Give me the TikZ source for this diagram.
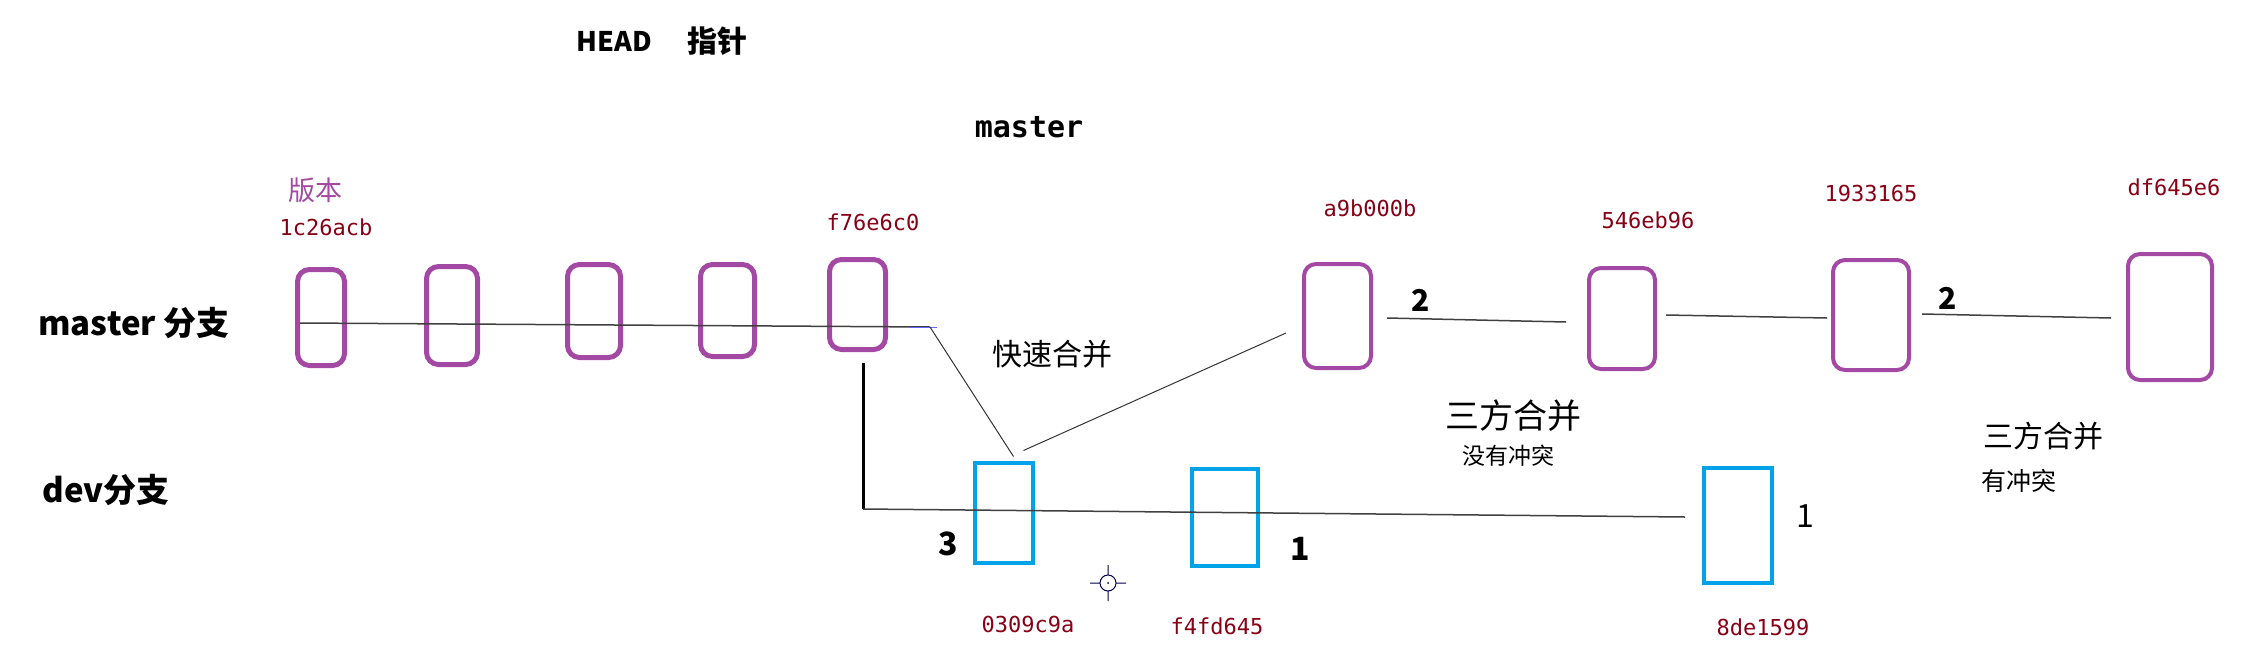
\documentclass[tikz,border=0pt]{standalone}
\usepackage{fontspec}
\newfontfamily\cjk{Noto Sans CJK SC}
\newfontfamily\hashfont{DejaVu Sans Mono}
\definecolor{gitpurple}{RGB}{163,73,164}
\definecolor{gitcyan}{RGB}{0,162,232}
\definecolor{hashred}{RGB}{136,0,21}

\begin{document}
\begin{tikzpicture}[x=1pt, y=-1pt,
    mcommit/.style={draw=gitpurple, line width=5pt, rounded corners=12pt, inner sep=0pt},
    dcommit/.style={draw=gitcyan, line width=4pt, inner sep=0pt},
    hash/.style={text=hashred, font=\hashfont\fontsize{22}{24}\selectfont},
    cn/.style={font=\cjk\fontsize{#1}{#1}\selectfont},
    cnb/.style={font=\cjk\bfseries\fontsize{#1}{#1}\selectfont},
    branch/.style={draw=black!75, line width=1.5pt}]
    \useasboundingbox (0,0) rectangle (2244,659);
    \node[mcommit, minimum width=47pt, minimum height=96pt] (M1) at (321,317.5) {};
    \node[mcommit, minimum width=51pt, minimum height=98pt] (M2) at (452,315.5) {};
    \node[mcommit, minimum width=53pt, minimum height=93pt] (M3) at (594,311) {};
    \node[mcommit, minimum width=54pt, minimum height=92pt] (M4) at (727.5,310.5) {};
    \node[mcommit, minimum width=56pt, minimum height=90pt] (M5) at (857.5,304.5) {};
    \node[mcommit, line width=4pt, minimum width=67pt, minimum height=104pt] (A) at (1337.5,316) {};
    \node[mcommit, line width=4pt, minimum width=66pt, minimum height=101pt] (B) at (1622,318.5) {};
    \node[mcommit, line width=4pt, minimum width=76pt, minimum height=110pt] (C) at (1871,315) {};
    \node[mcommit, line width=4pt, minimum width=84pt, minimum height=126pt] (D) at (2170,317) {};
    \node[dcommit, minimum width=58pt, minimum height=100pt] (X) at (1003.5,512.5) {};
    \node[dcommit, minimum width=66pt, minimum height=97pt] (Y) at (1224.5,517) {};
    \node[dcommit, minimum width=68pt, minimum height=115pt] (Z) at (1738,525.5) {};
    \node[hash] (hM1) at (326,227) {1c26acb};
    \node[hash] (hM5) at (873,222) {f76e6c0};
    \node[hash] (hA) at (1370,208) {a9b000b};
    \node[hash] (hB) at (1648,220) {546eb96};
    \node[hash] (hC) at (1871,193) {1933165};
    \node[hash] (hD) at (2174,187) {df645e6};
    \node[hash] (hX) at (1028,624) {0309c9a};
    \node[hash] (hY) at (1217,626) {f4fd645};
    \node[hash] (hZ) at (1763,627) {8de1599};
    \node[cn=27, text=gitpurple] (ver) at (315,190) {版本};
    \node[cnb=33] (mname) at (134,323) {master 分支};
    \node[cnb=33] (dname) at (106,490) {dev分支};
    \node[cnb=27] (head) at (614,41) {HEAD};
    \node[cnb=30] (ptr) at (717,41) {指针};
    \node[font=\hashfont\bfseries\fontsize{30}{32}\selectfont] (mref) at (1029,127) {master};
    \node[cn=30] (ff) at (1052,354) {快速合并};
    \node[cn=34] (tw1) at (1513,416) {三方合并};
    \node[cn=23] (nc) at (1508,456) {没有冲突};
    \node[cn=30] (tw2) at (2043,436) {三方合并};
    \node[cn=25] (hc) at (2019,481) {有冲突};
    \node[cnb=32] (n3) at (948,544) {3};
    \node[cnb=32] (n1a) at (1300,549) {1};
    \node[cn=32] (n1b) at (1805,516) {1};
    \node[cnb=30] (n2a) at (1421,300) {2};
    \node[cnb=30] (n2b) at (1948,298) {2};
    \coordinate (mstart) at (300,323);
    \coordinate (mend) at (930,327);
    \coordinate (fork) at (863,363);
    \coordinate (dstart) at (863,509);
    \coordinate (dend) at (1685,517);
    \draw[branch] (mstart) -- (mend);
    \draw[blue!60, line width=1pt] ([xshift=-20pt]mend) -- ([xshift=7pt]mend);
    \draw[black!80, line width=1pt] (mend) -- ([xshift=10pt,yshift=4pt]X.north);
    \draw[black!80, line width=1pt] ([xshift=20pt,yshift=10pt]X.north) -- ([xshift=-16pt,yshift=-17pt]A.west);
    \draw[black, line width=3pt] (fork) -- (dstart);
    \draw[branch] (dstart) -- (dend);
    \draw[branch] ([xshift=14pt,yshift=-2pt]A.east) -- ([xshift=-21pt,yshift=-3.5pt]B.west);
    \draw[branch] ([xshift=9pt,yshift=3.5pt]B.east) -- ([xshift=-4pt,yshift=-3pt]C.west);
    \draw[branch] ([xshift=11pt,yshift=1pt]C.east) -- ([xshift=-15pt,yshift=-1pt]D.west);
    \draw[black!70!blue, line width=1pt] (1108,583) circle (8pt) (1090,583) -- (1100,583) (1116,583) -- (1126,583)
        (1108,565) -- (1108,575) (1108,591) -- (1108,601);
    \fill[black!70!blue] (1108,583) circle (1pt);
\end{tikzpicture}
\end{document}
